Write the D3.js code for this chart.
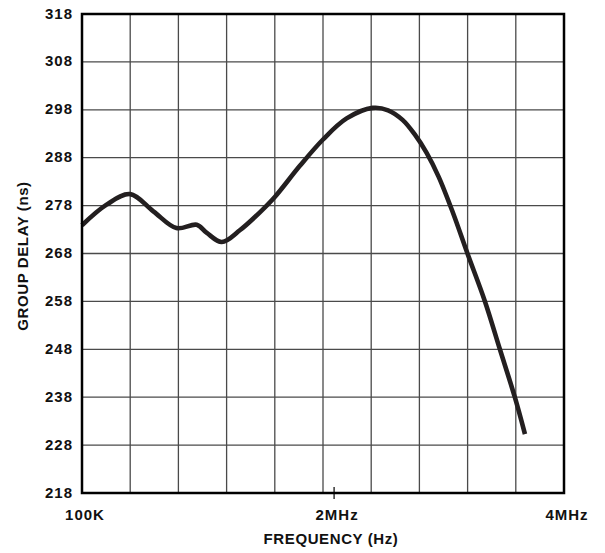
<!DOCTYPE html>
<html>
<head>
<meta charset="utf-8">
<script src="https://cdn.jsdelivr.net/npm/d3@7"></script>
<style>
  body { margin: 0; background: #fff; }
  text { font-family: "Liberation Sans", Arial, sans-serif; font-weight: bold; fill: #111; }
</style>
</head>
<body>
<div id="chart"></div>
<script>
// x is in grid divisions (10 across), y in ns
const xDiv = [0, 0.51, 1.0, 1.48, 1.96, 2.38, 2.59, 2.90, 3.28, 3.69, 4.0, 4.52,
              5.0, 5.49, 6.03, 6.35, 6.65, 6.9, 7.15, 7.4, 7.7, 7.99, 8.36, 8.67, 8.98, 9.19];
const delay = [273.9, 278.2, 280.4, 276.8, 273.3, 274.0, 272.3, 270.4, 272.9, 276.6, 279.8, 286.3,
               291.8, 296.2, 298.4, 297.9, 295.9, 292.9, 289.0, 284.0, 276.4, 268.2, 258.0, 248.0, 238.0, 230.3];

const yTicks = [218, 228, 238, 248, 258, 268, 278, 288, 298, 308, 318];
const xLabels = ["100K", "2MHz", "4MHz"];
const xLabelAt = [0, 5.23, 10];

let width = 605, height = 553;
let m = {left: 82, right: 41, top: 14, bottom: 60};

let x = d3.scaleLinear().domain([0, 10]).range([m.left, width - m.right]);
let y = d3.scaleLinear().domain([218, 318]).range([height - m.bottom, m.top]);

let svg = d3.select("#chart").append("svg")
    .attr("width", width)
    .attr("height", height);

// grid
let grid = svg.append("g").attr("class", "grid")
    .attr("stroke", "#4a4a4a").attr("stroke-width", 1.3);

grid.selectAll("line.v").data(d3.range(1, 10)).enter().append("line")
    .attr("class", "v")
    .attr("x1", d => x(d)).attr("x2", d => x(d))
    .attr("y1", y(218)).attr("y2", y(318));

grid.selectAll("line.h").data(yTicks.slice(1, -1)).enter().append("line")
    .attr("class", "h")
    .attr("x1", x(0)).attr("x2", x(10))
    .attr("y1", d => y(d)).attr("y2", d => y(d));

// curve
let line = d3.line()
    .x((d, i) => x(xDiv[i]))
    .y(d => y(d))
    .curve(d3.curveCatmullRom.alpha(0.5));

svg.append("path")
    .datum(delay)
    .attr("d", line)
    .attr("fill", "none")
    .attr("stroke", "#231f20")
    .attr("stroke-width", 4.6);

// frame
svg.append("rect")
    .attr("x", x(0)).attr("y", y(318))
    .attr("width", x(10) - x(0)).attr("height", y(218) - y(318))
    .attr("fill", "none").attr("stroke", "#000").attr("stroke-width", 2.5);

// 2MHz tick mark
svg.append("line")
    .attr("x1", x(xLabelAt[1])).attr("x2", x(xLabelAt[1]))
    .attr("y1", y(218) - 6).attr("y2", y(218) + 6)
    .attr("stroke", "#000").attr("stroke-width", 1.2);

// y tick labels
svg.append("g").selectAll("text").data(yTicks).enter().append("text")
    .attr("x", 73)
    .attr("y", d => y(d))
    .attr("dy", "0.3em")
    .attr("text-anchor", "end")
    .style("font-size", "15px")
    .style("letter-spacing", "1px")
    .text(d => d);

// x tick labels
svg.append("g").selectAll("text").data(xLabels).enter().append("text")
    .attr("x", (d, i) => x(xLabelAt[i]) + 3)
    .attr("y", 520)
    .attr("text-anchor", "middle")
    .style("font-size", "15px")
    .style("letter-spacing", "1px")
    .text(d => d);

// axis titles
svg.append("text")
    .attr("x", 331).attr("y", 544)
    .attr("text-anchor", "middle")
    .style("font-size", "15px")
    .style("letter-spacing", "0.6px")
    .text("FREQUENCY (Hz)");

svg.append("text")
    .attr("transform", "translate(28,256) rotate(-90)")
    .attr("text-anchor", "middle")
    .style("font-size", "15px")
    .style("letter-spacing", "0.6px")
    .text("GROUP DELAY (ns)");
</script>
</body>
</html>
